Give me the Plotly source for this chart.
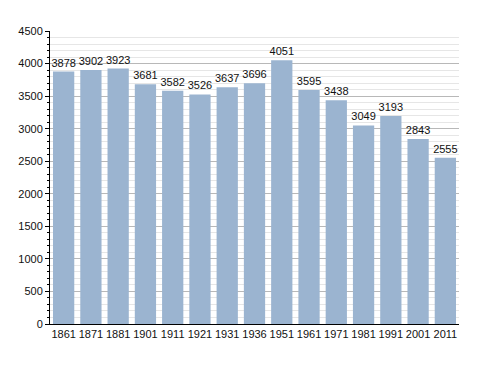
import plotly.graph_objects as go

years = ["1861", "1871", "1881", "1901", "1911", "1921", "1931", "1936", "1951",
         "1961", "1971", "1981", "1991", "2001", "2011"]
population = [3878, 3902, 3923, 3681, 3582, 3526, 3637, 3696, 4051,
              3595, 3438, 3049, 3193, 2843, 2555]

fig = go.Figure(go.Bar(
    x=years, y=population,
    marker=dict(color="#9bb4d0", line=dict(width=0)),
    text=[str(v) for v in population],
    textposition="outside",
    constraintext="none",
    textfont=dict(family="Liberation Sans, Arial", size=11, color="#111"),
    cliponaxis=False,
))

fig.update_layout(
    width=488, height=373,
    margin=dict(l=42, r=37, t=23, b=57, autoexpand=False),
    paper_bgcolor="white", plot_bgcolor="white",
    bargap=0.22,
    showlegend=False,
    font=dict(family="Liberation Sans, Arial", size=11, color="#111"),
)
fig.update_xaxes(
    type="category", showline=True, linecolor="black", linewidth=1,
    ticks="", showgrid=False, tickfont=dict(size=11), automargin=False,
)
fig.update_yaxes(
    range=[0, 4500], dtick=500, showline=True, linecolor="black", linewidth=1,
    ticks="outside", ticklen=4, tickcolor="black",
    showgrid=True, gridcolor="#b8b8b8", gridwidth=1,
    zeroline=False, tickfont=dict(size=11), automargin=False,
    minor=dict(dtick=100, showgrid=True, gridcolor="#e6e6e6", gridwidth=1,
               ticks="outside", ticklen=2, tickcolor="black"),
)

fig.write_html("out.html")
